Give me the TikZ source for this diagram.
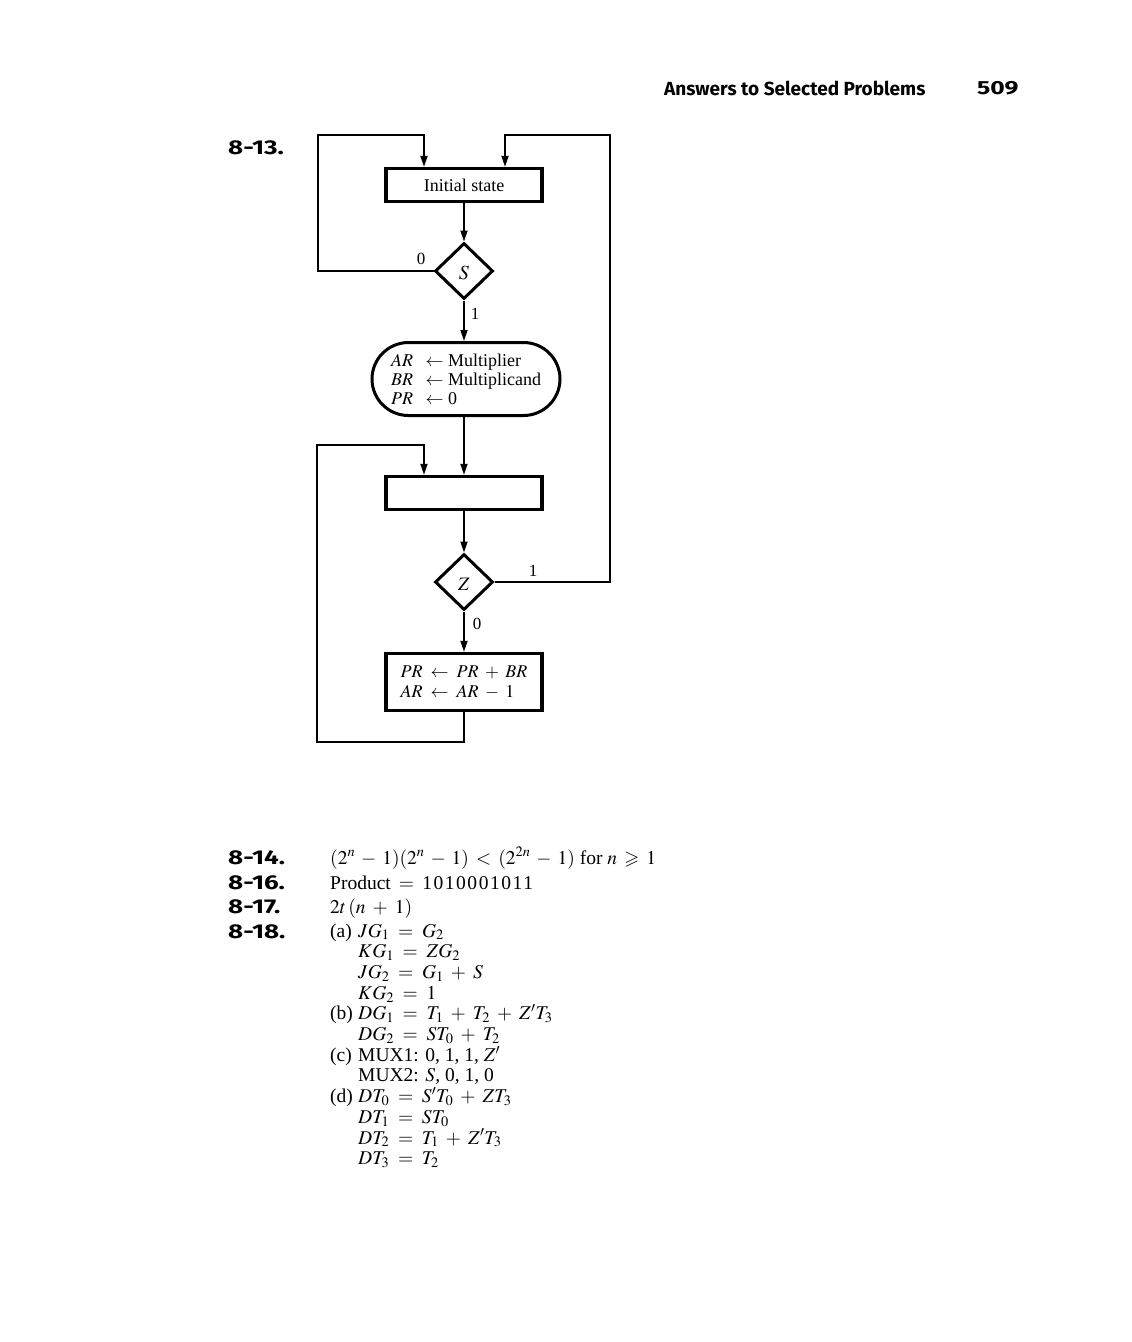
\documentclass[tikz,border=0pt]{standalone}
\usepackage{mathptmx}
\usepackage{amssymb}
\usepackage{graphicx}
\usepackage[no-math]{fontspec}
\setmainfont{Liberation Serif}
\newfontfamily\headfont{Fira Sans}
\newfontfamily\digitfont[LetterSpace=8]{Liberation Serif}
\usetikzlibrary{arrows.meta,shapes.geometric,shapes.misc}
\thickmuskip=8mu plus 2mu
\medmuskip=6.5mu plus 2mu
\newcommand\hdlbl[1]{\scalebox{1.3}[1.0]{#1}}
\begin{document}
\begin{tikzpicture}[x=1pt,y=-1pt,
  conn/.style={line width=1.7pt},
  arr/.style={conn,-{Triangle[length=11pt,width=7pt]}},
  stbox/.style={draw,line width=3.4pt,rectangle,inner sep=0pt,minimum width=156pt,minimum height=33pt},
  dec/.style={draw,line width=3pt,diamond,inner sep=0pt,minimum width=58pt,minimum height=56pt},
  body/.style={font=\fontsize{19.5}{20.7}\selectfont,inner sep=0pt},
  chart/.style={font=\fontsize{18}{19}\selectfont,inner sep=0pt},
  head/.style={font=\headfont\bfseries\fontsize{19}{22}\selectfont,inner sep=0pt},
  plbl/.style={font=\headfont\bfseries\fontsize{20}{22}\selectfont,inner sep=0pt},
  lbl/.style={font=\fontsize{17}{18}\selectfont,inner sep=0pt}]
\useasboundingbox[fill=white] (0,0) rectangle (1132,1342);

% header
\node[head,anchor=west] (hdr) at (664,88) {Answers to Selected Problems};
\node[head,anchor=west] (pg) at (977,88) {\hdlbl{509}};
\node[plbl,anchor=west] (p13) at (228,148) {\hdlbl{8-13.}};

% flowchart nodes
\node[stbox,chart] (init) at (464,185) {Initial state};
\node[dec] (S) at (464,271) {};
\node[chart,font=\fontsize{20}{20}\selectfont] (Slbl) at (464,273) {$S$};
\node[draw,line width=3pt,rounded rectangle,minimum width=188pt,minimum height=73pt,inner sep=0pt,chart,align=left] (oval) at (466,379)
  {$AR\ \leftarrow$ Multiplier\\ $BR\ \leftarrow$ Multiplicand\\ $PR\ \leftarrow$ 0};
\node[stbox] (box2) at (464,493) {};
\node[dec] (Z) at (464,582) {};
\node[chart,font=\fontsize{19}{20}\selectfont] (Zlbl) at (464,584) {$Z$};
\node[stbox,minimum height=57pt,chart,align=left] (box3) at (464,682)
  {$PR \leftarrow PR + BR$\\[1pt] $AR \leftarrow AR - 1$};

% loop corners
\coordinate (l1) at (318,135);
\coordinate (r1) at (610,135);
\coordinate (l2b) at (317,742);
\coordinate (l2t) at (317,445);

% connectors
\draw[arr] (init.south) -- (S.north);
\draw[arr] (S.south) -- (S.south |- oval.north);
\draw[arr] (oval.south -| init.south) -- (box2.north);
\draw[arr] (box2.south) -- (Z.north);
\draw[arr] (Z.south) -- (box3.north);
\draw[arr] (S.west) -| (l1) -| ([xshift=-40pt]init.north);
\draw[arr] (Z.east) -| (r1) -| ([xshift=41pt]init.north);
\draw[arr] (box3.south) |- (l2b) -- (l2t) -| ([xshift=-40pt]box2.north);

% branch labels
\node[lbl] (s0) at (421,259) {0};
\node[lbl] (s1) at (475,314) {1};
\node[lbl] (z1) at (533,571) {1};
\node[lbl] (z0) at (477,624) {0};

% answers
\node[plbl,anchor=base west] (p14) at (228,864) {\hdlbl{8-14.}};
\node[plbl,anchor=base west] (p16) at (228,889) {\hdlbl{8-16.}};
\node[plbl,anchor=base west] (p17) at (228,913) {\hdlbl{8-17.}};
\node[plbl,anchor=base west] (p18) at (228,938) {\hdlbl{8-18.}};

\node[body,anchor=base west] (a14) at (330,864) {\medmuskip=5.5mu\thickmuskip=6.5mu$(2^n - 1)(2^n - 1) < (2^{2n} - 1)$ for $n \geqslant 1$};
\node[body,anchor=base west] (a16) at (330,889) {Product\, $=$\, {\digitfont 1010001011}};
\node[body,anchor=base west] (a17) at (330,913) {$2t\,(n + 1)$};

\node[body,anchor=base west] (a) at (330,937.0) {(a)};
\node[body,anchor=base west] (a1) at (358,937.0) {$JG_1 = G_2$};
\node[body,anchor=base west] (a2) at (358,957.7) {$KG_1 = ZG_2$};
\node[body,anchor=base west] (a3) at (358,978.4) {$JG_2 = G_1 + S$};
\node[body,anchor=base west] (a4) at (358,999.1) {$KG_2 = 1$};
\node[body,anchor=base west] (b) at (330,1019.8) {(b)};
\node[body,anchor=base west] (b1) at (358,1019.8) {$DG_1 = T_1 + T_2 + Z'T_3$};
\node[body,anchor=base west] (b2) at (358,1040.5) {$DG_2 = ST_0 + T_2$};
\node[body,anchor=base west] (c) at (330,1061.2) {(c)};
\node[body,anchor=base west] (c1) at (358,1061.2) {MUX1: 0, 1, 1, $Z'$};
\node[body,anchor=base west] (c2) at (358,1081.9) {MUX2: $S$, 0, 1, 0};
\node[body,anchor=base west] (d) at (330,1102.6) {(d)};
\node[body,anchor=base west] (d1) at (358,1102.6) {$DT_0 = S'T_0 + ZT_3$};
\node[body,anchor=base west] (d2) at (358,1123.3) {$DT_1 = ST_0$};
\node[body,anchor=base west] (d3) at (358,1144.0) {$DT_2 = T_1 + Z'T_3$};
\node[body,anchor=base west] (d4) at (358,1164.7) {$DT_3 = T_2$};
\end{tikzpicture}
\end{document}
